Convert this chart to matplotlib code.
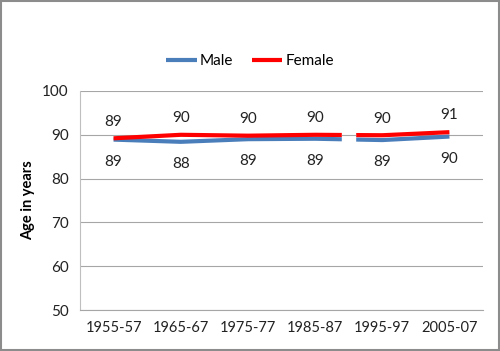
import matplotlib.pyplot as plt
from matplotlib.patches import Rectangle

plt.rcParams['font.family'] = ['Lato', 'DejaVu Sans']

periods = ["1955-57", "1965-67", "1975-77", "1985-87", "1995-97", "2005-07"]
male = [88.9, 88.4, 89.0, 89.1, 88.8, 89.6]
female = [89.2, 90.0, 89.8, 90.0, 89.9, 90.6]

fig = plt.figure(figsize=(5, 3.51), dpi=100)
ax = fig.add_axes([80 / 500, 1 - 310 / 351, 403 / 500, 219 / 351])

x = range(len(periods))
ax.plot(x, male, color="#4a7ebb", lw=3, label="Male", solid_capstyle="butt", zorder=2)
ax.plot(x, female, color="#ff0000", lw=3, label="Female", solid_capstyle="butt", zorder=2)

for i in x:
    ax.annotate(f"{round(female[i])}", (i, female[i]), xytext=(0, 7), textcoords="offset points",
                ha="center", va="bottom", fontsize=11, color="#222222")
    ax.annotate(f"{round(male[i])}", (i, male[i]), xytext=(0, -11), textcoords="offset points",
                ha="center", va="top", fontsize=11, color="#222222")

# break in the series between 1985-87 and 1995-97
ax.set_xlim(-0.5, len(periods) - 0.5)
ax.axvspan(3.4, 3.6, ymin=0.7, ymax=0.9, color="white", zorder=3)
ax.axhline(90, xmin=(3.4 + 0.5) / 6, xmax=(3.6 + 0.5) / 6, color="#a6a6a6", lw=0.8, zorder=4)

ax.set_ylim(50, 100)
ax.set_yticks(range(50, 101, 10))
ax.set_xticks(list(x))
ax.set_xticklabels(periods)
ax.tick_params(length=0, labelsize=10.5, colors="#222222", pad=8)
ax.tick_params(axis="y", labelsize=11)
ax.grid(axis="y", color="#a6a6a6", lw=0.8)
ax.set_axisbelow(True)
for s in ["top", "right"]:
    ax.spines[s].set_visible(False)
ax.spines["left"].set_color("#bfbfbf")
ax.spines["bottom"].set_color("#a6a6a6")
ax.set_ylabel("Age in years", fontsize=10.5, fontweight="bold", labelpad=5)

fig.legend(loc="center", bbox_to_anchor=(0.5, 1 - 61 / 351), ncol=2, frameon=False,
           fontsize=11, handlelength=2.0, handletextpad=0.2, columnspacing=1.2)

fig.add_artist(Rectangle((0.002, 0.003), 0.995, 0.994, transform=fig.transFigure,
                         fill=False, edgecolor="#8c8c8c", lw=1.5))

fig.savefig("out.png", dpi=100)
